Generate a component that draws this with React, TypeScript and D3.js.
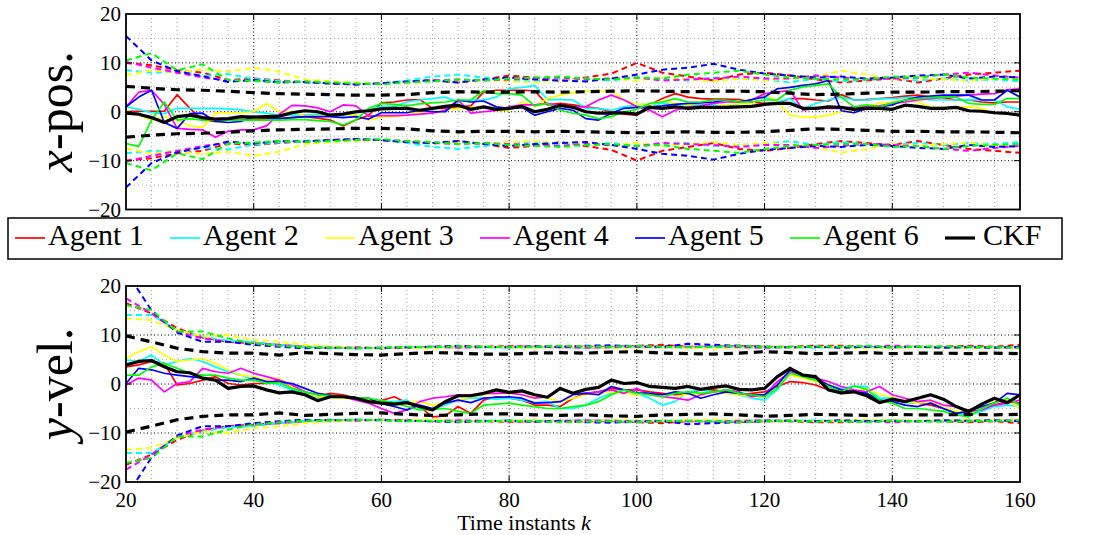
import React from 'react';
import * as d3 from 'd3';

// ---------- categories / ticks ----------
const K_EST = d3.range(20, 161, 2); // time instants of the error samples
const K_BND = d3.range(20, 161, 4); // time instants of the bound samples
const X_TICKS = [20, 40, 60, 80, 100, 120, 140, 160];
const Y_TICKS = [-20, -10, 0, 10, 20];
const AGENT_NAMES = ['Agent 1', 'Agent 2', 'Agent 3', 'Agent 4', 'Agent 5', 'Agent 6'];
const AGENT_COLORS = ['#ff0000', '#00ffff', '#ffff00', '#ff00ff', '#0000ff', '#00ff00'];

// ---------- x-position errors ----------
const xA1 = [0.1,0.1,0.1,0.1,3.5,0.7,-1.7,-2,-1.7,-1.6,-1.6,-1.4,-1.4,-1.2,-1,-1.3,-1.7,-2.9,-1.7,-0.7,1.8,2.0,2.4,2.5,0.7,0.7,1.0,1.2,4.0,4.4,4.4,4.4,4.3,1.4,1.7,1.4,1.0,0.7,0,-0.5,-0.7,1.4,2.7,3.7,3.0,2.7,2.6,2.6,2.5,2.0,1.7,1.7,2.7,2.7,2.4,2.2,3.5,2.4,2.5,2.7,2.9,3.2,3.4,3.0,2.9,2.4,2.4,2.0,1.8,2.0,2.0];
const xA2 = [1.0,0.5,-0.2,-0.4,0.7,0.7,0.7,0.7,0.6,0.4,0,-0.3,-0.7,-0.7,-0.7,-0.5,-0.5,-0.8,-0.3,0.4,1.1,1.1,2.0,2.4,2.7,3.0,2.0,2.4,2.4,3.0,4.7,5.0,5.4,2.5,2.5,2.4,0.7,0.7,0.3,1.0,1.4,1.5,1.7,1.4,1.4,1.4,1.4,1.0,1.7,2.5,3.0,2.0,2.7,0.5,1.7,2.4,3.0,2.4,2.4,2.7,2.7,2.9,2.9,2.4,2.4,2.4,2.5,2.4,2.4,1.0,0.5];
const xA3 = [0.3,-0.7,-1.7,-1.0,-1.7,-2.9,-3.2,-0.3,-0.2,-0.2,0,1.7,0,0,-0.9,-0.9,-0.9,-0.7,-0.7,-1.7,-1.1,-1.0,-0.7,0,0,0.3,0.7,0.9,1.0,0.3,0.3,2.0,1.2,2.7,3.4,3.9,4.3,4.3,4.3,2.4,1.5,1.5,2.2,1.7,1.4,1.0,1.0,1.4,1.7,1.5,3.7,2.0,-0.7,-1.1,-1.1,-0.7,0,0.5,1.0,1.7,2.0,2.4,2.0,1.0,0.9,0.9,1.0,0.7,-0.3,-0.5,-0.7];
const xA4 = [1.0,4.0,4.4,1.5,-3.4,-3.6,-3.7,-5.2,-4.0,-3.7,-3.7,-2.9,-0.5,1.3,1.2,0.8,0,1.4,1.2,-0.9,-0.8,-0.8,-0.7,-0.5,-0.3,0.3,2.4,-0.3,0,0.3,1.0,1.4,1.4,1.7,1.2,1.0,1.0,2.4,3.4,2.4,1.0,0.3,-1.0,0.3,1.0,1.2,1.7,2.0,2.0,2.4,3.7,4.0,4.4,0.3,0.7,0.7,0.7,1.0,1.0,1.2,1.7,2.0,2.4,2.7,3.0,3.2,3.4,3.6,3.7,4.5,4.7];
const xA5 = [1.0,3.0,4.4,-2.2,-3.4,-0.4,-0.3,-2.0,-2.2,-2.0,-1.0,-1.2,-1.4,-1.2,-1.0,-1.0,-1.0,-1.2,-1.0,-1.5,-0.2,-0.2,-0.2,0.3,0,0,2.4,2.0,2.2,1.0,0.7,0.9,-0.7,0,0.7,0.3,-1.4,-1.7,-0.3,0.7,0.9,1.0,1.2,1.5,1.7,1.8,2.0,2.4,2.0,2.5,3.0,4.7,5.0,5.4,5.7,6.4,0.2,-0.2,0.7,1.0,1.4,2.4,3.0,3.2,3.4,3.4,3.4,2.4,2.4,4.4,3.0];
const xA6 = [-6.5,-7.1,-1.7,2.0,-1.7,-1.4,-1.7,-1.7,-1.7,-1.7,-1.7,-1.7,-1.7,-1.6,-1.6,-1.8,-2.0,-2.7,-1.7,0.7,1.7,1.5,1.2,1.6,1.8,2.0,2.4,2.4,4.3,3.7,3.7,3.4,1.2,1.7,0.3,-0.3,-0.7,-1.4,-1.0,0,0.5,1.7,2.0,2.7,2.0,2.0,2.4,2.4,2.0,2.0,2.4,2.4,4.4,5.1,5.4,5.7,3.0,1.0,1.4,1.0,1.8,2.4,2.7,2.9,3.0,3.0,1.7,1.5,1.5,2.7,2.7];
const xCKF = [-0.3,-0.5,-1.2,-2.2,-1.0,-0.7,-1.2,-1.5,-1.4,-1.0,-1.1,-1.0,-0.9,-0.2,0.2,0,-0.7,-0.5,0,0.2,0.6,0.7,0.7,0.3,0.7,1.1,1.35,0.5,1.0,0.5,0.7,1.1,0,0.5,1.3,0.9,0,-0.3,-0.3,-0.2,-0.5,0.9,0.7,1.0,0.7,0.9,0.9,0.9,1.0,1.1,1.5,1.7,1.7,0.7,0.7,1.0,0.9,0.5,0.7,0.7,0.5,1.35,1.1,0.7,0.7,0.9,0.2,0.1,-0.2,-0.35,-0.7];

// ---------- x-position bounds (+/-) ----------
const xB1 = [10.0,9.5,8.5,8.0,6.5,6.8,6.4,6.0,5.8,5.6,5.8,6.2,6.5,6.0,6.6,7.4,7.0,6.2,7.0,7.8,10.0,8.0,7.2,6.4,7.6,8.0,7.4,6.6,6.0,6.4,6.8,6.0,6.8,7.6,8.0,8.4];
const xB2 = [8.5,8.0,8.2,7.3,7.7,6.7,6.3,6.0,5.8,5.6,5.8,6.4,7.2,7.6,7.0,6.4,6.2,6.6,6.8,6.4,7.0,6.6,6.4,7.0,6.8,6.6,6.0,6.8,6.2,6.6,6.8,6.4,6.8,6.4,6.6,6.2];
const xB3 = [7.5,8.5,8.0,8.7,8.2,9.0,8.2,6.6,6.2,6.0,5.8,6.0,6.4,6.2,6.6,6.2,6.0,6.4,6.6,6.8,6.4,7.0,6.6,6.2,6.8,6.4,6.8,7.2,8.4,7.6,6.6,7.0,6.6,6.4,6.8,7.0];
const xB4 = [10.2,9.0,8.0,7.0,6.4,6.4,6.0,6.2,5.8,5.6,5.8,6.0,6.4,6.6,6.4,6.6,6.8,7.0,6.6,6.8,7.0,6.4,6.6,6.8,7.2,6.8,6.8,7.4,7.0,6.6,6.8,7.0,7.6,8.0,7.4,7.0];
const xB5 = [15.5,10.5,8.3,7.3,6.1,6.5,6.0,6.1,5.8,5.6,5.8,6.2,6.4,6.0,6.6,7.0,6.6,6.4,6.2,6.8,7.6,8.6,9.0,9.8,8.6,7.8,7.4,7.0,7.2,6.8,7.0,7.4,7.6,6.8,7.2,7.0];
const xB6 = [10.5,12.0,8.5,9.7,6.5,6.3,6.0,6.2,6.0,5.8,5.6,6.0,6.2,6.6,6.4,6.8,7.0,7.2,6.8,6.6,7.0,6.8,7.6,8.0,8.4,7.6,7.0,6.8,6.6,6.6,7.2,7.0,7.6,7.0,6.8,6.6];
const xBCKF = [5.2,4.8,4.5,4.4,4.2,3.9,3.7,3.6,3.5,3.4,3.4,3.5,3.9,4.1,4.0,4.0,4.1,4.0,4.1,4.2,4.3,4.2,4.1,4.2,4.2,4.1,3.8,3.5,3.6,3.8,4.0,4.0,4.1,4.1,4.2,4.3];

// ---------- y-velocity errors ----------
const vA1 = [3.5,3.9,4.6,4.2,-0.2,0.1,0.8,1.5,0.1,-0.2,0.1,0.1,0.8,-0.5,-1.9,-2.6,-1.9,-2.2,-2.9,-3.6,-3.4,-2.6,-3.9,-4.6,-6.7,-6.5,-4.6,-6.0,-3.3,-2.6,-2.9,-3.3,-4.3,-4.3,-4.6,-2.9,-1.9,-1.6,-0.9,-1.2,-1.2,-1.6,-1.9,-2.2,-1.9,-1.2,-1.2,-1.6,-2.2,-1.9,-1.6,-0.5,0.5,0.3,-0.2,-1.2,-1.2,-1.6,-1.9,-3.6,-3.3,-3.6,-3.9,-4.3,-5.0,-6.0,-5.3,-4.6,-4.3,-3.6,-3.9];
const vA2 = [4.9,4.6,5.9,3.9,4.6,5.2,4.6,3.5,2.5,1.8,0.8,0.5,-0.2,-1.2,-1.9,-2.9,-2.6,-2.6,-3.0,-3.6,-3.5,-3.6,-3.3,-5.0,-5.2,-4.3,-3.3,-2.9,-2.9,-3.1,-2.9,-3.3,-3.8,-3.6,-5.0,-5.0,-4.3,-2.9,-1.9,-1.2,-1.9,-2.9,-4.3,-3.6,-1.6,-1.2,-1.6,-1.9,-2.2,-2.9,-3.3,-1.2,2.5,1.8,0.8,-0.2,-0.9,-0.5,-0.5,-2.9,-2.9,-3.8,-3.9,-3.6,-5.0,-6.0,-6.3,-5.6,-4.6,-4.3,-4.6];
const vA3 = [5.2,6.6,7.6,5.9,4.6,4.9,5.2,4.2,2.9,1.8,1.5,0.8,1.2,-0.5,-1.6,-2.6,-2.8,-2.9,-3.1,-3.3,-3.6,-4.6,-3.8,-3.6,-4.3,-3.9,-3.3,-2.7,-2.2,-1.9,-1.9,-2.2,-2.6,-2.9,-3.6,-2.9,-2.2,-1.9,-1.6,-1.9,-2.2,-1.9,-2.6,-2.9,-1.9,-2.2,-1.6,-1.9,-2.2,-2.6,-2.6,-0.2,1.8,1.2,0.5,-0.2,-1.6,-1.6,-0.9,-2.2,-2.6,-3.6,-3.9,-3.6,-4.6,-5.6,-6.0,-5.0,-3.6,-3.3,-5.0];
const vA4 = [-0.2,1.2,0.8,-1.6,0.1,0.5,3.2,2.5,2.2,3.2,2.2,1.5,0.8,-0.2,-1.6,-2.2,-2.4,-2.6,-3.3,-3.9,-5.0,-6.0,-5.3,-3.6,-2.9,-2.6,-2.2,-2.2,-1.9,-1.9,-1.8,-2.2,-2.9,-2.6,-0.9,-1.9,-1.9,-1.6,-1.2,-1.9,-0.9,-2.2,-2.6,-2.9,-3.3,-2.2,-1.6,-1.2,-1.6,-2.6,-2.2,0.5,2.5,1.8,1.2,0.5,-0.5,-1.2,-1.6,-0.5,-2.2,-2.9,-3.6,-3.3,-4.3,-4.6,-5.6,-5.3,-4.3,-3.9,-3.3];
const vA5 = [0.1,3.2,2.9,2.2,1.8,1.5,1.2,0.8,0.8,0.5,1.2,0.5,0.5,0.1,-0.9,-1.9,-2.3,-2.6,-2.8,-2.9,-4.0,-4.6,-5.3,-4.3,-5.0,-3.9,-3.3,-3.8,-2.9,-2.7,-2.6,-2.9,-3.9,-3.8,-3.6,-2.2,-1.9,-2.2,-0.5,-1.2,-1.8,-1.9,-2.2,-1.6,-1.9,-2.9,-2.2,-1.6,-1.9,-2.2,-2.2,-0.2,2.9,1.8,1.2,-0.2,-1.2,-1.6,-1.9,-3.3,-3.6,-4.3,-4.6,-3.9,-5.0,-6.0,-5.6,-4.6,-3.9,-1.9,-2.2];
const vA6 = [1.8,1.8,3.5,4.2,3.2,2.2,1.8,1.8,1.2,0.8,0.8,0.1,0.3,-0.9,-1.6,-2.2,-2.4,-2.6,-2.8,-2.9,-3.4,-3.9,-4.6,-5.3,-5.2,-5.0,-5.6,-6.0,-4.3,-4.1,-3.9,-4.3,-4.6,-5.0,-5.0,-4.6,-4.3,-3.6,-2.2,-1.2,-1.9,-2.2,-2.6,-1.9,-1.6,-1.9,-1.6,-1.2,-1.9,-2.2,-2.6,-0.9,2.2,1.5,0.8,-0.5,-1.6,-0.4,-1.1,-3.3,-3.9,-5.0,-5.0,-5.3,-5.6,-6.3,-6.7,-5.0,-3.9,-2.9,-4.3];
const vCKF = [3.9,4.6,4.8,3.5,2.5,2.3,1.2,0.8,-0.9,-0.5,-0.4,-1.2,-1.8,-1.6,-2.2,-3.4,-2.6,-2.6,-2.9,-3.6,-3.9,-4.1,-3.8,-4.6,-5.3,-3.6,-2.4,-2.4,-1.9,-1.2,-1.7,-1.4,-2.2,-2.7,-0.9,-1.9,-1.1,-0.7,0.8,0.1,0.3,-0.5,-0.7,-0.9,-0.5,-1.1,-0.7,-0.4,-1.1,-1.2,-0.9,1.5,3.2,1.8,1.5,-1.2,-1.8,-1.6,-2.4,-3.8,-3.1,-3.6,-2.9,-2.2,-3.1,-4.6,-5.6,-4.1,-2.9,-3.8,-2.2];

// ---------- y-velocity bounds (+/-) ----------
const vB1 = [16.5,14.4,11.4,9.5,8.6,8.3,8.0,7.6,7.4,7.4,7.3,7.4,7.6,7.5,7.6,7.7,7.6,7.5,7.6,7.6,7.8,8.0,7.6,7.6,7.8,7.6,7.6,7.8,7.8,7.6,7.5,7.6,7.6,7.8,7.6,8.0];
const vB2 = [14.1,14.1,11.0,9.7,8.8,8.6,8.0,7.6,7.4,7.3,7.3,7.4,7.5,7.6,7.5,7.4,7.5,7.6,7.4,7.5,7.6,7.5,7.4,7.6,7.5,7.4,7.5,7.4,7.6,7.5,7.4,7.6,7.5,7.4,7.5,7.4];
const vB3 = [13.4,13.0,11.0,9.7,10.0,9.0,8.6,8.0,7.6,7.4,7.3,7.4,7.3,7.5,7.6,7.5,7.4,7.6,7.5,7.3,7.4,7.5,7.4,7.3,7.4,7.5,7.4,7.6,7.5,7.3,7.4,7.5,7.4,7.3,7.4,7.3];
const vB4 = [17.5,14.4,10.7,9.3,8.6,8.3,8.0,7.5,7.3,7.5,7.3,7.5,7.6,7.4,7.5,7.6,7.7,7.5,7.4,7.5,7.6,7.5,7.6,7.7,7.5,7.4,7.5,7.6,7.5,7.6,7.8,7.6,7.5,7.6,7.5,7.4];
const vB5 = [23,15.0,10.5,8.6,8.6,8.0,7.6,7.3,7.4,7.3,7.4,7.5,7.6,7.8,7.6,7.5,7.7,7.6,7.8,7.9,7.7,7.6,8.2,8.0,7.8,7.6,7.5,7.6,7.4,7.6,7.5,7.6,7.4,7.5,7.4,7.6];
const vB6 = [16.1,15.1,10.7,10.7,9.3,8.3,7.8,7.5,7.4,7.3,7.4,7.6,7.5,7.7,7.6,7.5,7.6,7.8,7.7,7.6,7.8,7.6,7.5,7.6,7.8,7.6,7.5,7.7,7.6,7.8,7.5,7.6,7.7,7.6,7.5,7.4];
const vBCKF = [9.8,8.6,7.3,6.6,6.3,6.3,5.9,6.4,6.2,6.0,5.9,6.2,6.4,6.3,6.1,6.1,6.3,6.4,6.3,6.5,6.6,6.3,6.2,6.1,6.3,6.6,6.4,6.2,6.3,6.4,6.2,6.3,6.3,6.2,6.3,6.2];

const FONT = '"Liberation Serif", "Times New Roman", Times, serif';
const W = 1109;
const H = 535;
const PLOT_L = 126;
const PLOT_R = 1020;

const fmt = (v: number) => (v < 0 ? '\u2212' + Math.abs(v) : String(v));

const xScale = d3.scaleLinear().domain([20, 160]).range([PLOT_L, PLOT_R]);

type PanelProps = {
  id: string;
  top: number;
  bottom: number;
  errs: number[][];
  bnds: number[][];
  ckfErr: number[];
  ckfBnd: number[];
  labelItalic: string;
  labelRest: string;
  xLabels: boolean;
};

function Panel({ id, top, bottom, errs, bnds, ckfErr, ckfBnd, labelItalic, labelRest, xLabels }: PanelProps) {
  const y = d3.scaleLinear().domain([-20, 20]).range([bottom, top]);
  const lineEst = d3
    .line<number>()
    .x((_, i) => xScale(K_EST[i]))
    .y((d) => y(d));
  const lineBnd = (sign: number) =>
    d3
      .line<number>()
      .x((_, i) => xScale(K_BND[i]))
      .y((d) => y(sign * d));

  const minorX = d3.range(24, 160, 4).filter((k) => k % 20 !== 0);
  const majorX = X_TICKS.filter((k) => k !== 20 && k !== 160);
  const minorY = [-15, -5, 5, 15];
  const majorY = [-10, 0, 10];
  const clipId = `clip-${id}`;
  const cy = (top + bottom) / 2;

  return (
    <g>
      <defs>
        <clipPath id={clipId}>
          <rect x={PLOT_L} y={top} width={PLOT_R - PLOT_L} height={bottom - top} />
        </clipPath>
      </defs>
      <rect x={PLOT_L} y={top} width={PLOT_R - PLOT_L} height={bottom - top} fill="#fff" />
      {/* minor grid */}
      {minorX.map((k) => (
        <line key={'mx' + k} x1={xScale(k)} x2={xScale(k)} y1={top} y2={bottom} stroke="#a8a8a8" strokeWidth={1} strokeDasharray="1,3" />
      ))}
      {minorY.map((v) => (
        <line key={'my' + v} x1={PLOT_L} x2={PLOT_R} y1={y(v)} y2={y(v)} stroke="#a8a8a8" strokeWidth={1} strokeDasharray="1,3" />
      ))}
      {/* major grid */}
      {majorX.map((k) => (
        <line key={'gx' + k} x1={xScale(k)} x2={xScale(k)} y1={top} y2={bottom} stroke="#000" strokeWidth={1} strokeDasharray="1,2.5" />
      ))}
      {majorY.map((v) => (
        <line key={'gy' + v} x1={PLOT_L} x2={PLOT_R} y1={y(v)} y2={y(v)} stroke="#000" strokeWidth={1} strokeDasharray="1,2.5" />
      ))}
      {/* data */}
      <g clipPath={`url(#${clipId})`} fill="none" strokeLinejoin="round">
        {errs.map((e, i) => (
          <g key={'a' + i} stroke={AGENT_COLORS[i]}>
            <path d={lineEst(e) || ''} strokeWidth={1.7} />
            <path d={lineBnd(1)(bnds[i]) || ''} strokeWidth={2} strokeDasharray="6,4" />
            <path d={lineBnd(-1)(bnds[i]) || ''} strokeWidth={2} strokeDasharray="6,4" />
          </g>
        ))}
        <path d={lineEst(ckfErr) || ''} stroke="#000" strokeWidth={3.2} />
        <path d={lineBnd(1)(ckfBnd) || ''} stroke="#000" strokeWidth={3.2} strokeDasharray="9,6" />
        <path d={lineBnd(-1)(ckfBnd) || ''} stroke="#000" strokeWidth={3.2} strokeDasharray="9,6" />
      </g>
      {/* ticks */}
      {majorX.map((k) => (
        <g key={'tx' + k} stroke="#000" strokeWidth={1}>
          <line x1={xScale(k)} x2={xScale(k)} y1={bottom} y2={bottom - 6} />
          <line x1={xScale(k)} x2={xScale(k)} y1={top} y2={top + 6} />
        </g>
      ))}
      {majorY.map((v) => (
        <g key={'ty' + v} stroke="#000" strokeWidth={1}>
          <line x1={PLOT_L} x2={PLOT_L + 6} y1={y(v)} y2={y(v)} />
          <line x1={PLOT_R} x2={PLOT_R - 6} y1={y(v)} y2={y(v)} />
        </g>
      ))}
      <rect x={PLOT_L} y={top} width={PLOT_R - PLOT_L} height={bottom - top} fill="none" stroke="#000" strokeWidth={1.8} />
      {/* y tick labels */}
      {Y_TICKS.map((v) => (
        <text key={'yl' + v} x={PLOT_L - 5} y={y(v) + 7} textAnchor="end" fontSize={21} fontFamily={FONT} fill="#000">
          {fmt(v)}
        </text>
      ))}
      {xLabels &&
        X_TICKS.map((k) => (
          <text key={'xl' + k} x={xScale(k)} y={bottom + 25} textAnchor="middle" fontSize={21} fontFamily={FONT} fill="#000">
            {fmt(k)}
          </text>
        ))}
      <text transform={`translate(72,${cy}) rotate(-90)`} textAnchor="middle" fontSize={50} fontFamily={FONT} fill="#000">
        <tspan fontStyle="italic">{labelItalic}</tspan>
        {labelRest}
      </text>
    </g>
  );
}

function Legend() {
  const left = 8;
  const top = 218;
  const w = 1054;
  const h = 41;
  const step = 155;
  const entries = [
    ...AGENT_NAMES.map((n, i) => ({ name: n, color: AGENT_COLORS[i], width: 1.7 })),
    { name: 'CKF', color: '#000', width: 3.2 },
  ];
  return (
    <g>
      <rect x={left} y={top} width={w} height={h} fill="#fff" stroke="#000" strokeWidth={1.5} />
      {entries.map((e, i) => {
        const x0 = left + 7 + i * step;
        const isCkf = e.name === 'CKF';
        return (
          <g key={e.name}>
            <line x1={x0} x2={x0 + 30} y1={top + 20} y2={top + 20} stroke={e.color} strokeWidth={e.width} />
            <text x={x0 + (isCkf ? 38 : 33)} y={top + 27} fontSize={30} fontFamily={FONT} fill="#000">
              {e.name}
            </text>
          </g>
        );
      })}
    </g>
  );
}

export default function App() {
  return (
    <svg width={W} height={H} style={{ position: 'absolute', left: 0, top: 0, display: 'block', background: '#fff' }}>
      <rect x={0} y={0} width={W} height={H} fill="#fff" />
      <Panel
        id="xpos"
        top={14}
        bottom={209.5}
        errs={[xA1, xA2, xA3, xA4, xA5, xA6]}
        bnds={[xB1, xB2, xB3, xB4, xB5, xB6]}
        ckfErr={xCKF}
        ckfBnd={xBCKF}
        labelItalic="x"
        labelRest="-pos."
        xLabels={false}
      />
      <Panel
        id="yvel"
        top={286}
        bottom={482}
        errs={[vA1, vA2, vA3, vA4, vA5, vA6]}
        bnds={[vB1, vB2, vB3, vB4, vB5, vB6]}
        ckfErr={vCKF}
        ckfBnd={vBCKF}
        labelItalic="y"
        labelRest="-vel."
        xLabels={true}
      />
      <Legend />
      <text x={524} y={530} textAnchor="middle" fontSize={22} fontFamily={FONT} fill="#000">
        Time instants <tspan fontStyle="italic">k</tspan>
      </text>
    </svg>
  );
}
